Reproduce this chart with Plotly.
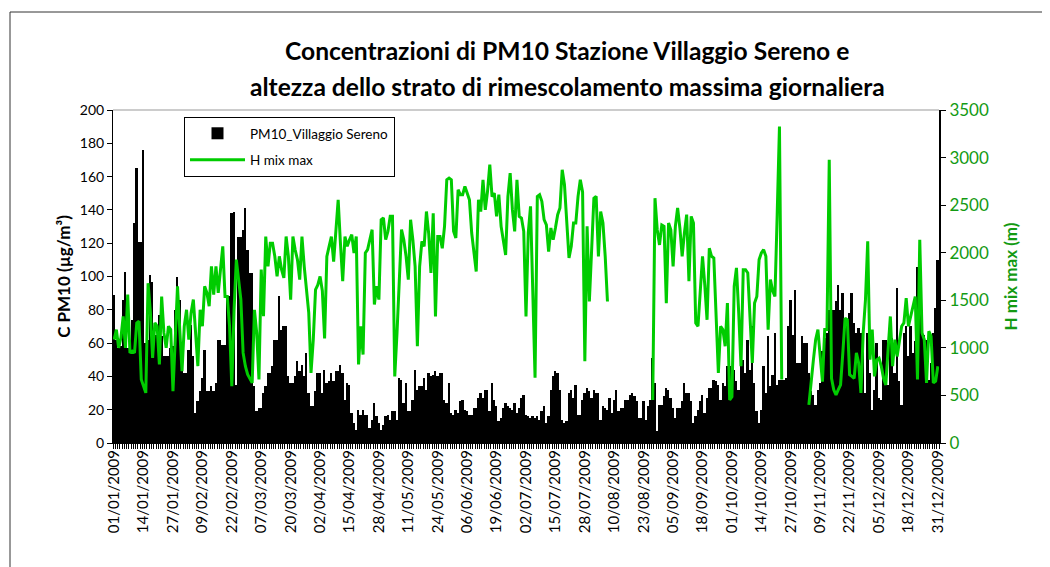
import pandas as pd
import plotly.graph_objects as go

# Daily PM10 at Villaggio Sereno, 2009 (ug/m3)
pm10 = [
    89, 62, 57, 58, 86, 103, 57, 58, 74, 132,      # 0
    165, 121, 121, 176, 60, 62, 101, 97, 65, 65,
    77, 64, 52, 52, 52, 57, 58, 80, 100, 86,       # 20
    54, 42, 42, 56, 71, 52, 18, 25, 31, 39,
    56, 31, 31, 34, 31, 36, 62, 62, 59, 59,        # 40
    88, 88, 138, 139, 35, 124, 124, 128, 141, 116,
    102, 102, 34, 19, 21, 21, 30, 34, 42, 42,      # 60
    46, 62, 62, 88, 68, 70, 70, 40, 36, 36,
    40, 49, 43, 47, 40, 54, 30, 22, 22, 31,        # 80
    42, 42, 30, 44, 36, 37, 42, 37, 43, 43,
    47, 42, 26, 36, 35, 18, 12, 8, 20, 17,         # 100
    20, 17, 17, 9, 14, 24, 16, 12, 8, 11,
    16, 17, 14, 19, 19, 14, 39, 38, 24, 36,        # 120
    19, 19, 26, 44, 32, 34, 34, 39, 32, 42,
    40, 41, 43, 40, 42, 42, 26, 24, 36, 18,        # 140
    17, 20, 18, 25, 26, 20, 19, 17, 17, 21,
    21, 27, 30, 27, 32, 32, 19, 36, 26, 22,        # 160
    13, 15, 21, 24, 22, 21, 20, 24, 18, 21,
    27, 29, 17, 16, 15, 16, 15, 16, 14, 19,        # 180
    22, 12, 16, 32, 40, 43, 42, 32, 14, 12,
    13, 30, 32, 27, 35, 17, 17, 26, 30, 33,        # 200
    31, 27, 32, 30, 30, 14, 22, 21, 20, 27,
    18, 26, 32, 19, 21, 21, 26, 26, 29, 30,        # 220
    28, 25, 15, 15, 25, 14, 22, 26, 51, 36,
    7, 23, 23, 28, 33, 32, 27, 21, 15, 21,         # 240
    21, 25, 36, 30, 30, 25, 12, 16, 20, 25,
    29, 18, 27, 33, 33, 38, 37, 35, 26, 36,        # 260
    34, 46, 46, 44, 44, 37, 32, 61, 50, 42,
    62, 44, 70, 36, 19, 12, 20, 46, 30, 64,        # 280
    34, 41, 66, 35, 38, 38, 38, 39, 70, 86,
    65, 92, 48, 48, 64, 60, 60, 42, 31, 29,        # 300
    23, 32, 36, 55, 63, 66, 80, 95, 80, 85,
    95, 80, 90, 75, 72, 78, 90, 72, 66, 69,        # 320
    66, 68, 30, 66, 42, 20, 32, 60, 27, 26,
    62, 62, 35, 66, 63, 42, 93, 37, 23, 66,        # 340
    70, 52, 70, 54, 61, 106, 91, 65, 65, 62,
    38, 48, 66, 81, 110,                           # 360
]

# Daily max mixing height (m); None where the line is missing
h_mix = [
    1087, 1192, 1000, 1105, 1330, 1000, 1560, 947, 965, 947,          # 0
    1262, 1280, 667, 597, 527, 1680, 1380, 895, 1262, 1227,
    825, 1540, 1157, 1000, 1227, 1192, 545, 1087, 1647, 1192,         # 20
    755, 1227, 1400, 1087, 1367, 1507, 1122, 807, 1400, 1227,
    1647, 1577, 1437, 1857, 1560, 1857, 1577, 1857, 2067, 1540,       # 40
    1540, 1227, 597, 1400, 1927, 1717, 1507, 947, 807, 720,
    667, 632, 1400, 1157, 667, 1822, 1332, 2170, 1857, 2100,          # 60
    2100, 1962, 1752, 1962, 1822, 1735, 2170, 1962, 1507, 2170,
    2030, 1927, 1717, 2170, 1857, 1612, 1367, 737, 1087, 1612,        # 80
    1662, 1750, 1600, 1100, 1960, 2067, 2170, 1907, 2277, 2555,
    2100, 1700, 2170, 2067, 2137, 2190, 1997, 2170, 825, 1227,        # 100
    930, 1997, 2032, 2137, 2242, 1455, 1647, 1507, 2347, 2365,
    2137, 2225, 2382, 2382, 700, 1157, 1647, 2242, 2137, 1962,        # 120
    1717, 2347, 2137, 1857, 1017, 1857, 2120, 2067, 2433, 2200,
    1787, 2415, 1330, 2170, 2170, 2047, 2277, 2767, 2785, 2767,       # 140
    2225, 2155, 2662, 2610, 2610, 2697, 2627, 2557, 2207, 2000,
    1802, 2557, 2433, 2767, 2450, 2645, 2925, 2590, 2627, 2382,       # 160
    2610, 2277, 2120, 1977, 2590, 2837, 2450, 2225, 2767, 2382,
    2365, 2225, 1330, 2207, 2487, 1507, 685, 2592, 2610, 2540,        # 180
    2347, 2292, 2012, 2260, 2137, 2260, 2400, 2470, 2872, 2715,
    2292, 1945, 2067, 2312, 2312, 2592, 2767, 2640, 860, 2277,        # 200
    1487, 2067, 2572, 2592, 1962, 2433, 2312, 1962, 1487, None,
    None, None, None, None, None, None, None, None, None, None,       # 220
    None, None, None, None, None, None, None, None, 452, 2573,
    2240, 2082, 2292, 2277, 1470, 2312, 2240, 1857, 2277, 2470,       # 240
    2260, 1962, 2207, 2400, 1700, 2382, 2312, 1260, 1227, 1647,
    1962, 1662, 1295, 2047, 1962, 1945, 1367, 737, 1227, 1192,        # 260
    1017, 1470, 452, 487, 1647, 1840, 1367, 807, 1822, 1822,
    1787, 1330, 842, 1470, 1540, 1927, 1997, 2032, 1962, 1192,        # 280
    1717, 1600, 1540, 2400, 3327, 667, None, None, None, None,
    None, None, None, None, None, None, None, 400, 680, 873,          # 300
    1087, 1192, 910, 645, 1192, 1192, 2977, 680, 560, 505,
    560, 612, 947, 1312, 1295, 717, 700, 680, 947, 842,               # 320
    527, 1157, 1502, 2120, 875, 1192, 700, 873, 890, 807,
    680, 610, 980, 1330, 807, 1087, 910, 1087, 1227, 1262,            # 340
    1522, 1227, 1330, 1455, 1540, 667, 2137, 1157, 1087, 632,
    1175, 1122, 632, 650, 807,                                        # 360
]

title_lines = [
    "Concentrazioni di PM10 Stazione Villaggio Sereno e",
    "altezza dello strato di rimescolamento massima giornaliera",
]

days = pd.date_range("2009-01-01", "2009-12-31", freq="D")
tick_days = days[::13]
tick_labels = [d.strftime("%d/%m/%Y") for d in tick_days]

DAY_MS = 86400000
GREEN = "#00CC00"
AXIS_GREEN = "#139a13"

# the page body has an 8px margin, so the figure starts at (8, 8)
OFF = 8
W, H = 1050 - OFF, 567 - OFF
# plot area in page pixels (left, right, top, bottom)
PL, PR, PT, PB = 113, 939, 110, 443


def px_x(x):
    return (x - PL) / (PR - PL)


def px_y(y):
    return (PB - y) / (PB - PT)


fig = go.Figure()

fig.add_trace(go.Bar(
    x=days, y=pm10,
    name="PM10_Villaggio Sereno",
    legendgroup="pm",
    marker=dict(color="black", line=dict(width=0)),
    width=0.78 * DAY_MS,
))

fig.add_trace(go.Scatter(
    x=days, y=h_mix,
    name="H mix max",
    legendgroup="h",
    mode="lines",
    line=dict(color=GREEN, width=3),
    connectgaps=False,
    yaxis="y2",
))

fig.update_layout(
    width=W, height=H,
    margin=dict(l=PL - OFF, r=W - (PR - OFF), t=PT - OFF, b=H - (PB - OFF)),
    paper_bgcolor="white",
    plot_bgcolor="white",
    font=dict(family="Lato", size=14, color="black"),
    showlegend=True,
    legend=dict(
        x=px_x(184), y=px_y(117), xanchor="left", yanchor="top",
        bordercolor="black", borderwidth=1, bgcolor="white",
        font=dict(size=13.5),
        itemwidth=55,
        tracegroupgap=6,
    ),
    bargap=0,
    xaxis=dict(
        type="date",
        range=[days[0] - pd.Timedelta(hours=12), days[-1] + pd.Timedelta(hours=12)],
        tickmode="array",
        tickvals=tick_days,
        ticktext=tick_labels,
        tickangle=-90,
        ticks="",
        tickfont=dict(size=15),
        minor=dict(ticks="outside", ticklen=5, tickcolor="black",
                   tick0=days[0] - pd.Timedelta(hours=12), dtick=DAY_MS,
                   showgrid=False),
        showline=True, linecolor="black", linewidth=1,
        showgrid=False, zeroline=False,
    ),
    yaxis=dict(
        range=[0, 200], tickmode="linear", tick0=0, dtick=20,
        ticks="outside", ticklen=5, tickcolor="black",
        showline=True, linecolor="black", linewidth=1,
        showgrid=False, zeroline=False,
        tickfont=dict(size=14),
        title=dict(text="<b>C PM10 (µg/m³)</b>", font=dict(size=17), standoff=4),
    ),
    yaxis2=dict(
        overlaying="y", side="right",
        range=[0, 3500], tickmode="linear", tick0=0, dtick=500,
        ticks="outside", ticklen=5, tickcolor="black",
        showline=True, linecolor="black", linewidth=2,
        showgrid=False, zeroline=False,
        tickfont=dict(size=17, color=AXIS_GREEN),
        title=dict(text="<b>H mix max (m)</b>", font=dict(size=17, color=AXIS_GREEN),
                   standoff=17),
    ),
    annotations=[
        dict(text="<b>%s</b>" % title_lines[0], xref="paper", yref="paper",
             x=px_x(567), y=px_y(50), xanchor="center", yanchor="middle",
             showarrow=False, font=dict(size=24.6)),
        dict(text="<b>%s</b>" % title_lines[1], xref="paper", yref="paper",
             x=px_x(567), y=px_y(87), xanchor="center", yanchor="middle",
             showarrow=False, font=dict(size=24.6)),
    ],
    shapes=[
        # grey top edge of plot area
        dict(type="line", xref="paper", yref="paper", x0=0, x1=1, y0=1, y1=1,
             line=dict(color="#999999", width=1)),
        # outer chart frame
        dict(type="rect", xref="paper", yref="paper",
             x0=px_x(10), x1=px_x(1060), y0=px_y(575), y1=px_y(12),
             line=dict(color="#333333", width=1)),
    ],
)

fig.write_html("out.html")
